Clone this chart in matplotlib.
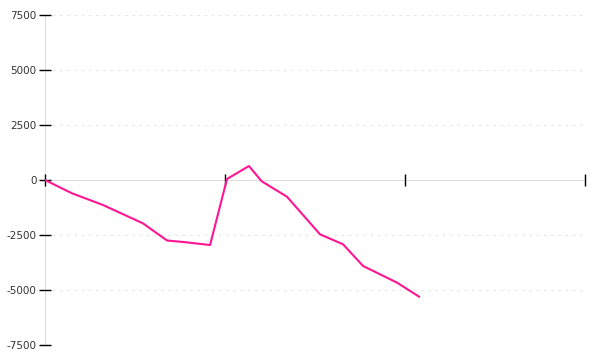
import matplotlib
matplotlib.use("Agg")
import matplotlib.pyplot as plt

# x positions in units of the x tick spacing (ticks at 0, 1, 2, 3)
x_vals = [0.0, 0.15, 0.322, 0.544, 0.678, 0.767, 0.917, 1.011, 1.133,
          1.204, 1.344, 1.528, 1.656, 1.767, 1.956, 2.078]
y_vals = [0, -606, -1136, -1970, -2750, -2818, -2955, 45, 636,
          -60, -758, -2470, -2924, -3909, -4667, -5303]
x_ticks = [0, 1, 2, 3]
y_ticks = [-7500, -5000, -2500, 0, 2500, 5000, 7500]

fig = plt.figure(figsize=(6, 3.6), dpi=100)
ax = fig.add_axes([0.075, 0.0417, 0.9, 0.9166])

ax.set_xlim(0, 3)
ax.set_ylim(-7500, 7500)

for yt in y_ticks:
    if yt != 0:
        ax.axhline(yt, color="#e6e6e6", lw=0.8, ls=(0, (2.5, 4)), zorder=0)

ax.plot(x_vals, y_vals, color="#ff1493", lw=1.5, zorder=3)

ax.spines["top"].set_visible(False)
ax.spines["right"].set_visible(False)
ax.spines["left"].set_color("#dddddd")
ax.spines["left"].set_zorder(1)
ax.spines["bottom"].set_position(("data", 0))
ax.spines["bottom"].set_color("#dddddd")
ax.spines["bottom"].set_zorder(1)

ax.set_xticks(x_ticks)
ax.set_xticklabels([])
ax.tick_params(axis="x", direction="inout", length=8, width=1, color="black")
ax.set_yticks(y_ticks)
ax.set_yticklabels([str(t) for t in y_ticks])
ax.tick_params(axis="y", direction="inout", length=8, width=1, color="black",
               labelsize=7.5, labelcolor="#333333", pad=2)
for t in ax.xaxis.get_major_ticks():
    t.tick1line.set_clip_on(False)

fig.savefig("out.png", dpi=100)
